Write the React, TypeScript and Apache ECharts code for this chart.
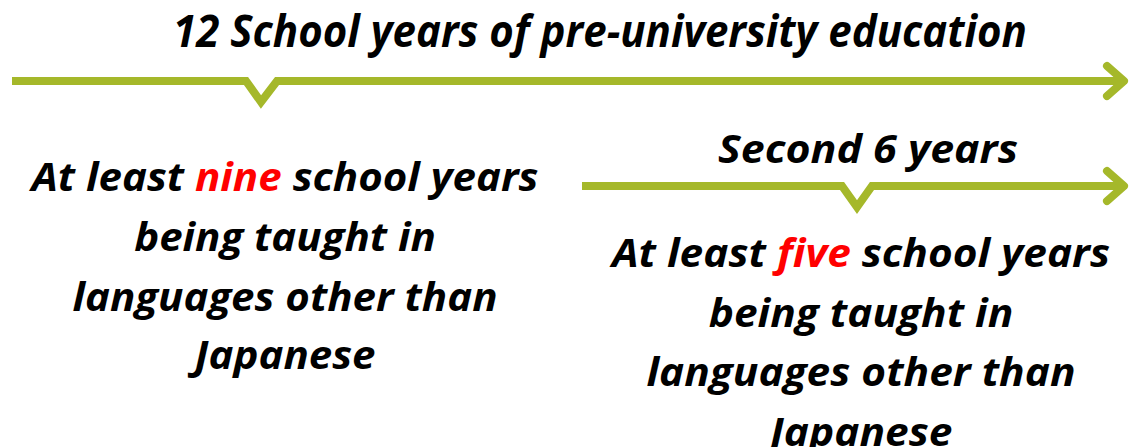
import React, { useEffect, useRef } from "react";
import * as echarts from "echarts";

const GREEN = "#A5B82A";
const RED = "#FF0000";
const FONT = "'Open Sans'";

// Texts
const title = "12 School years of pre-university education";
const subTitle = "Second 6 years";
const leftLines = ["At least {r|nine} school years", "being taught in", "languages other than", "Japanese"];
const rightLines = ["At least {r|five} school years", "being taught in", "languages other than", "Japanese"];

const leftCx = 285;
const rightCx = 861;
const leftBaselines = [190, 250, 310, 368];
const rightBaselines = [266, 326, 385, 445];
const leftWidths = [507, 300, 345, 147];
const rightWidths = [498, 300, 345, 147];

function measure(text: string, fs: number) {
  const c = document.createElement("canvas");
  const ctx = c.getContext("2d")!;
  ctx.font = `italic bold ${fs}px ${FONT}`;
  return ctx.measureText(text.replace(/\{r\|([^}]*)\}/g, "$1")).width;
}

function makeText(text: string, cx: number, baseline: number, fs: number, targetW: number | null, scaleX?: number) {
  const w = measure(text, fs);
  const sx = scaleX ?? (targetW ? targetW / w : 1);
  return {
    type: "text",
    x: cx,
    y: baseline - fs * 0.36,
    scaleX: sx,
    style: {
      text,
      x: 0,
      y: 0,
      fill: "#000",
      font: `italic bold ${fs}px ${FONT}`,
      fontStyle: "italic",
      fontWeight: "bold",
      fontSize: fs,
      fontFamily: FONT,
      textAlign: "center",
      textVerticalAlign: "middle",
      rich: {
        r: {
          fill: RED,
          color: RED,
          fontStyle: "italic",
          fontWeight: "bold",
          fontSize: fs,
          fontFamily: FONT,
        },
      },
    },
    silent: true,
  };
}

export default function App() {
  const ref = useRef<HTMLDivElement>(null);
  useEffect(() => {
    document.body.style.margin = "0";
    const chart = echarts.init(ref.current!, null, { renderer: "svg" });
    const bodyFs = 39;
    const elements: any[] = [];

    // top arrow
    elements.push({
      type: "polyline",
      shape: { points: [[12, 81], [246, 81], [261, 102], [277, 81], [1124, 81]] },
      style: { stroke: GREEN, lineWidth: 8, fill: null, lineJoin: "miter", lineCap: "butt" },
      silent: true,
    });
    elements.push({
      type: "polyline",
      shape: { points: [[1107, 66], [1124, 81], [1107, 96]] },
      style: { stroke: GREEN, lineWidth: 8, fill: null, lineJoin: "round", lineCap: "round" },
      silent: true,
    });
    // second arrow
    elements.push({
      type: "polyline",
      shape: { points: [[582, 186], [842, 186], [857, 207], [872, 186], [1124, 186]] },
      style: { stroke: GREEN, lineWidth: 8, fill: null, lineJoin: "miter", lineCap: "butt" },
      silent: true,
    });
    elements.push({
      type: "polyline",
      shape: { points: [[1107, 171], [1124, 186], [1107, 201]] },
      style: { stroke: GREEN, lineWidth: 8, fill: null, lineJoin: "round", lineCap: "round" },
      silent: true,
    });

    elements.push(makeText(title, 600, 46, 44, 854));
    elements.push(makeText(subTitle, 868, 162, bodyFs, 300));

    const sxLeft = leftWidths[0] / measure(leftLines[0], bodyFs);
    leftLines.forEach((t, i) => elements.push(makeText(t, leftCx, leftBaselines[i], bodyFs, null, sxLeft)));
    const sxRight = rightWidths[0] / measure(rightLines[0], bodyFs);
    rightLines.forEach((t, i) => elements.push(makeText(t, rightCx, rightBaselines[i], bodyFs, null, sxRight)));

    chart.setOption({
      animation: false,
      backgroundColor: "#ffffff",
      graphic: { elements },
    });
    return () => chart.dispose();
  }, []);
  return <div ref={ref} style={{ position: "fixed", left: 0, top: 0, width: 1130, height: 447 }} />;
}
